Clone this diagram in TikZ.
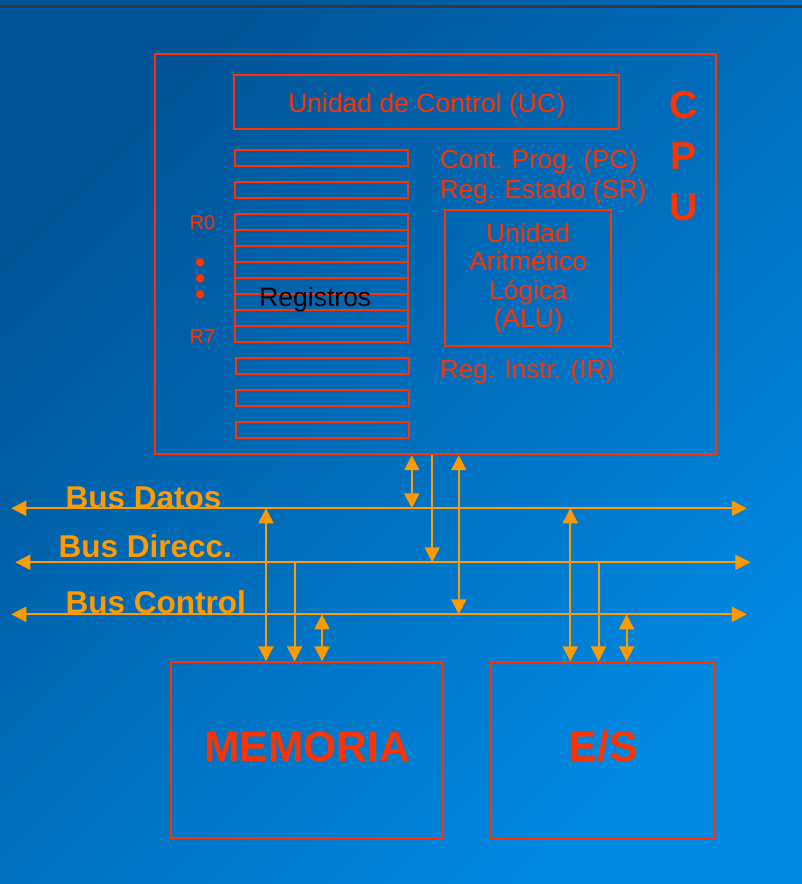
\documentclass[tikz,border=0pt]{standalone}
\usepackage{fontspec}
\setmainfont{Liberation Sans}
\usepackage{xcolor}
\usetikzlibrary{arrows.meta}
\definecolor{cpured}{RGB}{255,51,0}
\definecolor{busorange}{RGB}{255,155,0}
\definecolor{bgtop}{RGB}{0,84,150}
\definecolor{bgbot}{RGB}{0,138,228}
\definecolor{rulegray}{RGB}{50,54,62}
\tikzset{
  unit/.style  ={draw=cpured, line width=2pt, inner sep=0pt, text=cpured},
  regrow/.style={draw=cpured, line width=2pt, inner sep=0pt, minimum width=173pt, minimum height=16pt},
  lbl/.style   ={text=cpured, inner sep=0pt, anchor=base west, font=\fontsize{26}{28.5}\selectfont},
  rlbl/.style  ={text=cpured, inner sep=0pt, anchor=base west, font=\fontsize{20}{22}\selectfont},
  buslbl/.style={text=busorange, inner sep=0pt, anchor=base west, font=\bfseries\fontsize{31.5}{33}\selectfont},
  big/.style   ={text height=31pt, text depth=8pt, font=\bfseries\fontsize{42.5}{44}\selectfont},
  bus/.style   ={draw=busorange, line width=2pt},
}

\begin{document}
\begin{tikzpicture}[x=1pt, y=-1pt, >={Triangle[length=15pt,width=15pt]}]
  \shade[shading=axis, top color=bgtop, bottom color=bgbot, shading angle=45] (0,0) rectangle (802,884);
  \useasboundingbox (0,0) rectangle (802,884);
  \draw[rulegray, line width=2.7pt] (0,6.3) -- (802,6.3);

  \node[unit, minimum width=561pt, minimum height=400pt] (cpu) at (435,254.2) {};
  \node[unit, minimum width=384.6pt, minimum height=54.3pt, text height=26.5pt, font=\fontsize{26.5}{29}\selectfont] (uc) at (426.7,102.2) {Unidad de Control (UC)};
  \node[text=cpured, inner sep=0pt, align=center, font=\bfseries\fontsize{39}{51}\selectfont] (cpulbl) at (683.5,156.5) {C\\P\\U};

  \node[regrow] (pc) at (321,158) {};
  \node[regrow] (sr) at (321,190) {};
  \foreach \i in {0,...,7}
    \node[regrow] (r\i) at (321,{222+16*\i}) {};
  \foreach \i/\y in {1/366.3,2/398.3,3/430.3}
    \node[regrow, minimum width=173.5pt] (ir\i) at (322.5,\y) {};
  \node[inner sep=0pt, anchor=base, font=\fontsize{26.5}{28}\selectfont] (regtxt) at (315.3,306.5) {Registros};

  \node[rlbl] (r0lbl) at (189.5,229.3) {R0};
  \node[rlbl] (r7lbl) at (189.5,343.3) {R7};
  \foreach \y in {262.3,278.3,294.3}
    \fill[cpured] (200,\y) circle (4.3pt);

  \node[lbl] (pctxt) at (440,168) {Cont. Prog. (PC)};
  \node[lbl] (srtxt) at (440,198.5) {Reg. Estado (SR)};
  \node[lbl] (irtxt) at (440,378.3) {Reg. Instr. (IR)};
  \node[unit, minimum width=165.7pt, minimum height=136pt, align=center, font=\fontsize{26.5}{28.5}\selectfont] (alu) at (528.2,278) {Unidad\\Aritmético\\Lógica\\(ALU)};

  \node[unit, big, minimum width=272pt, minimum height=176pt] (mem) at (307,750.3) {MEMORIA};
  \node[unit, big, minimum width=224.3pt, minimum height=176pt] (es) at (603.2,750.3) {E/S};

  \coordinate (datL) at (11.3,508.3);  \coordinate (datR) at (746.8,508.3);
  \coordinate (dirL) at (15.3,562.3);  \coordinate (dirR) at (750.4,562.3);
  \coordinate (ctlL) at (11.3,614.3);  \coordinate (ctlR) at (746.8,614.3);
  \draw[bus, <->] (datL) -- (datR);
  \draw[bus, <->] (dirL) -- (dirR);
  \draw[bus, <->] (ctlL) -- (ctlR);
  \node[buslbl] (datlbl) at (65.5,508) {Bus Datos};
  \node[buslbl] (dirlbl) at (58.5,557) {Bus Direcc.};
  \node[buslbl] (ctllbl) at (65.5,613.3) {Bus Control};

  \coordinate (cD) at (411.8,508.3);
  \coordinate (cA) at (432.2,562.3);
  \coordinate (cC) at (458.8,614.3);
  \draw[bus, <->] (cpu.south -| cD) -- (cD);
  \draw[bus, ->]  (cpu.south -| cA) -- (cA);
  \draw[bus, <->] (cpu.south -| cC) -- (cC);

  \coordinate (mD) at (266,508.3);
  \coordinate (mA) at (294.6,562.3);
  \coordinate (mC) at (322,614.3);
  \draw[bus, <->] (mD) -- (mD |- mem.north);
  \draw[bus, ->]  (mA) -- (mA |- mem.north);
  \draw[bus, <->] (mC) -- (mC |- mem.north);

  \coordinate (eD) at (570.3,508.3);
  \coordinate (eA) at (598.5,562.3);
  \coordinate (eC) at (626.6,614.3);
  \draw[bus, <->] (eD) -- (eD |- es.north);
  \draw[bus, ->]  (eA) -- (eA |- es.north);
  \draw[bus, <->] (eC) -- (eC |- es.north);
\end{tikzpicture}
\end{document}
